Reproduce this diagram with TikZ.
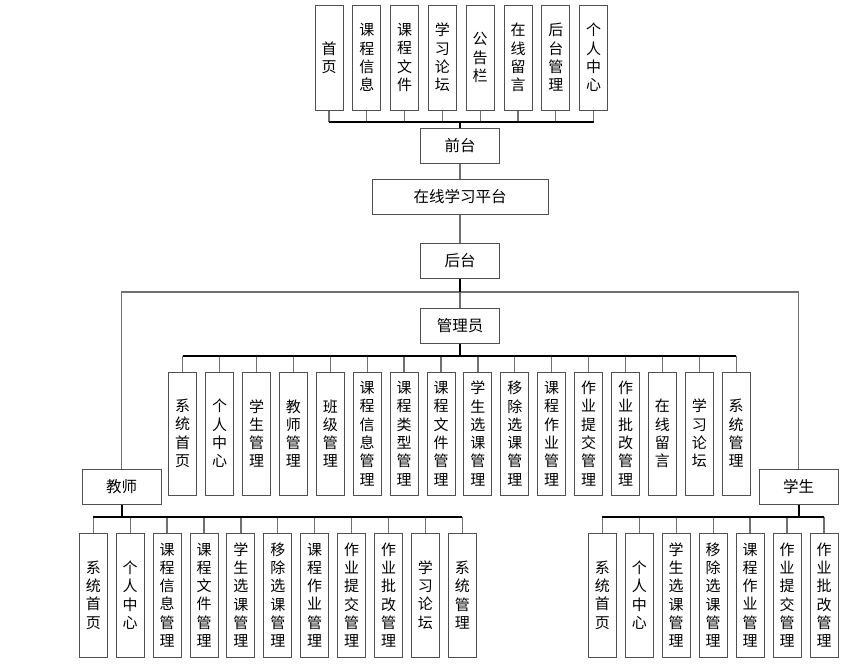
\documentclass[tikz,border=0pt]{standalone}
\usepackage{fontspec}
\usepackage{tikz}
\usepackage{xcolor}
\newfontfamily\cjk{Noto Sans CJK SC}

\definecolor{boxgray}{HTML}{505050}
\definecolor{linegray}{HTML}{707070}

\tikzset{
  box/.style={draw=boxgray, line width=1pt, fill=white, inner sep=0pt, align=center,
    font=\cjk\fontsize{15}{18.3}\selectfont},
  vbox/.style={box, minimum width=28pt},
  hbox/.style={box, minimum width=79pt, minimum height=35pt, font=\cjk\fontsize{15.5}{17}\selectfont},
  bus/.style={draw=black, line width=2pt},
  stub/.style={draw=linegray, line width=1.3pt}
}

\begin{document}
\begin{tikzpicture}[x=1pt, y=-1pt]
        \useasboundingbox (0,0) rectangle (857,665);

        % Draw main boxes
        \node[hbox] (qiantai) at (460,146) {前台};
        \node[hbox, minimum width=176pt] (pingtai) at (460,196.5) {在线学习平台};
        \node[hbox] (houtai) at (460,261) {后台};
        \node[hbox] (guanli) at (460,325.5) {管理员};
        \node[hbox] (jiaoshi) at (121.5,487) {教师};
        \node[hbox] (xuesheng) at (798.5,487) {学生};

        % Bus points
        \coordinate (topbus) at (460,122);
        \coordinate (hub) at (460,292);
        \coordinate (midbus) at (460,356);
        \coordinate (tbus) at (121.5,517);
        \coordinate (sbus) at (798.5,517);

        % Front page modules
        \foreach \txt [count=\i] in {{首\\页},{课\\程\\信\\息},{课\\程\\文\\件},{学\\习\\论\\坛},
            {公\\告\\栏},{在\\线\\留\\言},{后\\台\\管\\理},{个\\人\\中\\心}}
          \node[vbox, minimum height=105pt] (t\i) at ({329+37.8*(\i-1)},57.5) {\txt};

        % Admin modules
        \foreach \txt [count=\i] in {{系\\统\\首\\页},{个\\人\\中\\心},{学\\生\\管\\理},{教\\师\\管\\理},
            {班\\级\\管\\理},{课\\程\\信\\息\\管\\理},{课\\程\\类\\型\\管\\理},{课\\程\\文\\件\\管\\理},
            {学\\生\\选\\课\\管\\理},{移\\除\\选\\课\\管\\理},{课\\程\\作\\业\\管\\理},{作\\业\\提\\交\\管\\理},
            {作\\业\\批\\改\\管\\理},{在\\线\\留\\言},{学\\习\\论\\坛},{系\\统\\管\\理}}
          \node[vbox, minimum height=123pt] (m\i) at ({182.7+36.9*(\i-1)},433.5) {\txt};

        % Teacher modules
        \foreach \txt [count=\i] in {{系\\统\\首\\页},{个\\人\\中\\心},{课\\程\\信\\息\\管\\理},
            {课\\程\\文\\件\\管\\理},{学\\生\\选\\课\\管\\理},{移\\除\\选\\课\\管\\理},{课\\程\\作\\业\\管\\理},
            {作\\业\\提\\交\\管\\理},{作\\业\\批\\改\\管\\理},{学\\习\\论\\坛},{系\\统\\管\\理}}
          \node[vbox, minimum height=124pt] (a\i) at ({93.3+36.9*(\i-1)},595) {\txt};

        % Student modules
        \foreach \txt [count=\i] in {{系\\统\\首\\页},{个\\人\\中\\心},{学\\生\\选\\课\\管\\理},
            {移\\除\\选\\课\\管\\理},{课\\程\\作\\业\\管\\理},{作\\业\\提\\交\\管\\理},{作\\业\\批\\改\\管\\理}}
          \node[vbox, minimum height=124pt] (s\i) at ({602.3+36.95*(\i-1)},595) {\txt};

        % Draw stubs
        \foreach \i in {1,...,8} \draw[stub] (t\i.south) -- (t\i.south |- topbus);
        \foreach \i in {1,...,16} \draw[stub] (m\i.north) -- (m\i.north |- midbus);
        \foreach \i in {1,...,11} \draw[stub] (a\i.north) -- (a\i.north |- tbus);
        \foreach \i in {1,...,7} \draw[stub] (s\i.north) -- (s\i.north |- sbus);

        % Draw middle connectors
        \draw[stub] (qiantai) -- (pingtai);
        \draw[stub] (pingtai) -- (houtai);
        \draw[stub] (jiaoshi.north) -- (jiaoshi.north |- hub) -- (xuesheng.north |- hub) -- (xuesheng.north);
        \draw[stub] (hub) -- (guanli.north);

        % Draw buses
        \draw[bus] (t1.south |- topbus) -- (t8.south |- topbus);
        \draw[bus] (qiantai.north) -- (topbus);
        \draw[bus] (houtai.south) -- (hub);
        \draw[bus] (m1.north |- midbus) -- (m16.north |- midbus);
        \draw[bus] (guanli.south) -- (midbus);
        \draw[bus] (a1.north |- tbus) -- (a11.north |- tbus);
        \draw[bus] (jiaoshi.south) -- (tbus);
        \draw[bus] (s1.north |- sbus) -- (s7.north |- sbus);
        \draw[bus] (xuesheng.south) -- (sbus);
    \end{tikzpicture}
\end{document}
